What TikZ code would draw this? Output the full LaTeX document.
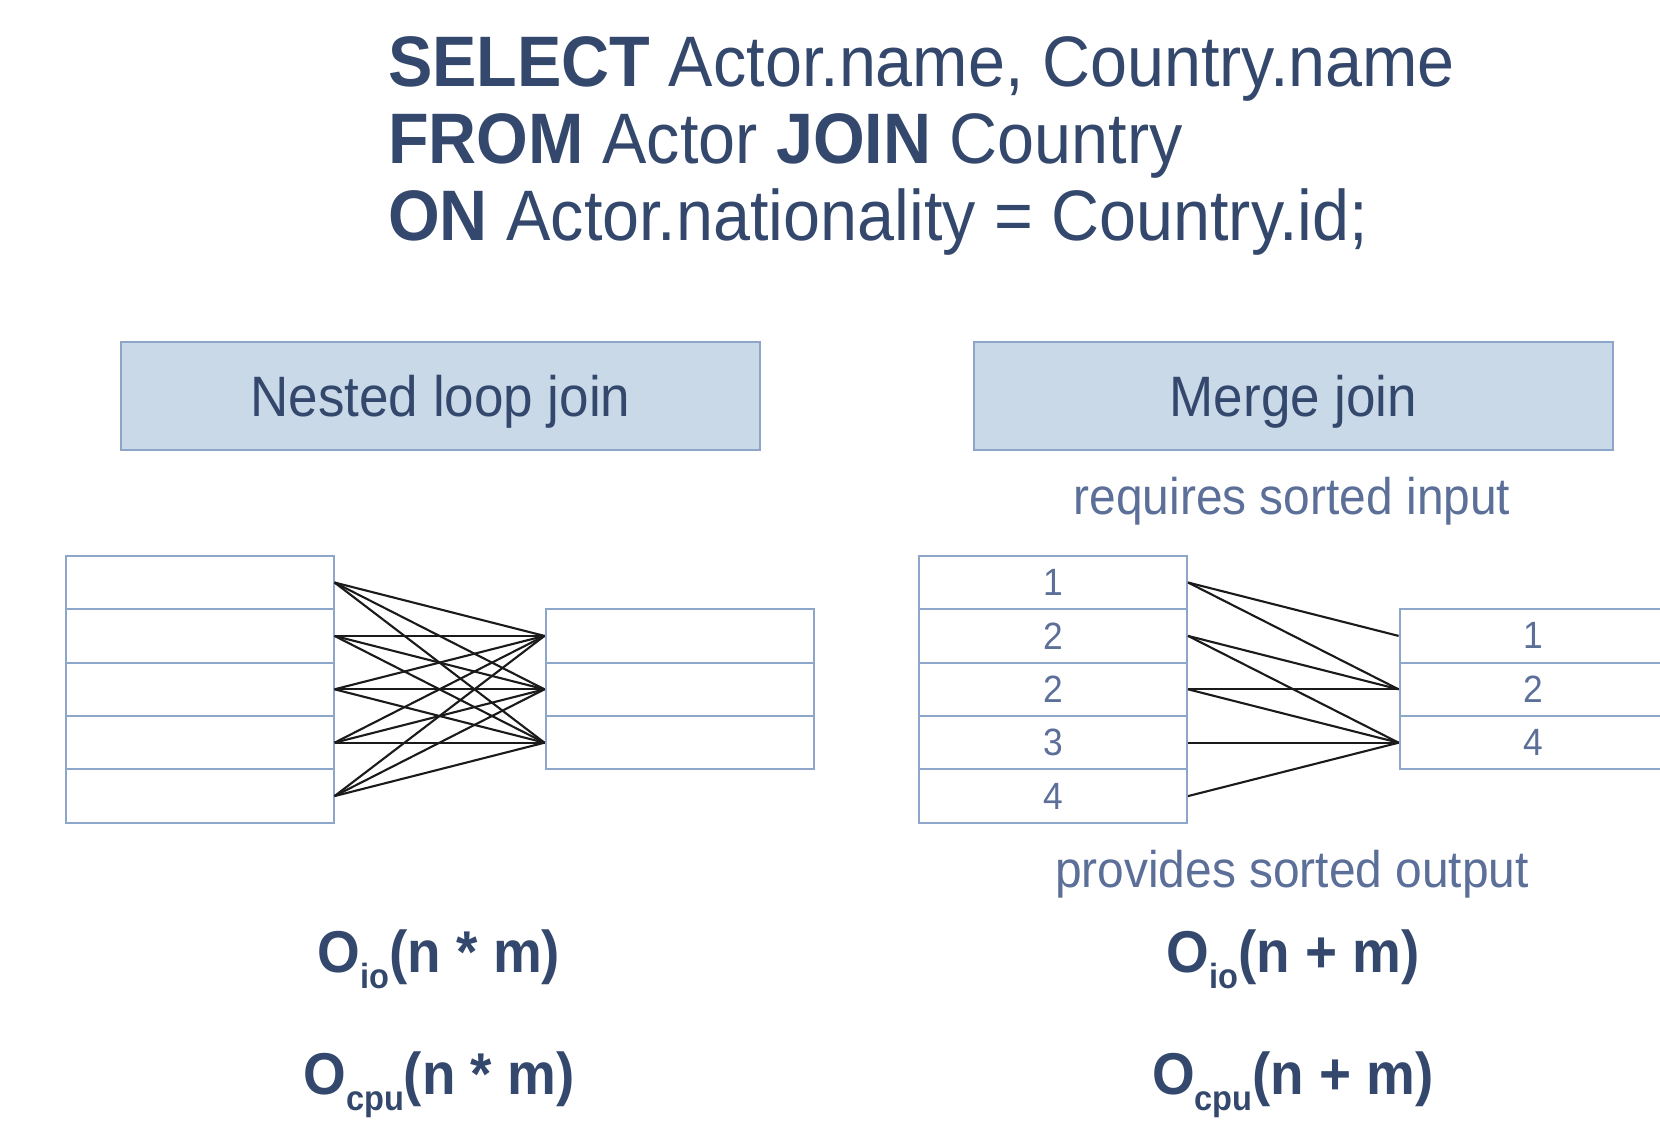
\documentclass[tikz,border=0pt]{standalone}
\usepackage{fontspec}
\setmainfont{Liberation Sans}[FakeStretch=0.93]
\definecolor{navy}{RGB}{51,72,108}
\definecolor{slate}{RGB}{91,111,153}
\definecolor{boxfill}{RGB}{201,217,232}
\definecolor{boxline}{RGB}{140,165,201}
\definecolor{cellline}{RGB}{142,166,202}
\definecolor{linkcol}{RGB}{26,26,26}
\newcommand\lowsub[1]{\raisebox{-16pt}{\fontsize{35}{35}\selectfont #1}}
\begin{document}
\begin{tikzpicture}[x=1pt,y=-1pt,
  cell/.style={draw=cellline, line width=2pt, minimum width=268pt, minimum height=53.4pt,
               inner sep=0pt, text=slate, font=\fontsize{38}{40}\selectfont},
  head/.style={draw=boxline, fill=boxfill, line width=2.5pt, minimum width=639pt,
               minimum height=108pt, inner sep=0pt, text=navy, font=\fontsize{57}{60}\selectfont,
               text height=41pt, text depth=0pt},
  note/.style={text=slate, font=\fontsize{51.5}{56}\selectfont, inner sep=0pt, anchor=base},
  cost/.style={text=navy, font=\bfseries\fontsize{59}{64}\selectfont, inner sep=0pt, anchor=base},
  sql/.style={text=navy, font=\fontsize{71.5}{80}\selectfont, inner sep=0pt, anchor=base west},
  link/.style={line width=2.1pt, draw=linkcol}
]
\clip (0,0) rectangle (1660,1124);
\fill[white] (0,0) rectangle (1660,1124);

% SQL query
\node[sql] (q1) at (388,86)  {\textbf{SELECT} Actor.name, Country.name};
\node[sql] (q2) at (388,163) {\textbf{FROM} Actor \textbf{JOIN} Country};
\node[sql] (q3) at (388,240) {\textbf{ON} Actor.nationality = Country.id;};

% algorithm headers
\node[head] (hnl) at (440.5,396) {Nested loop join};
\node[head] (hmj) at (1293.5,396) {Merge join};

% nested loop tables
\foreach \i in {1,...,5}
  \node[cell] (nl\i) at (199.5,{582.5+53.4*(\i-1)}) {};
\foreach \i in {1,2,3}
  \node[cell] (nr\i) at (679.5,{635.9+53.4*(\i-1)}) {};

% merge join tables
\foreach \i/\v in {1/1,2/2,3/2,4/3,5/4}
  \node[cell] (ml\i) at (1053,{582.5+53.4*(\i-1)}) {\v};
\foreach \i/\v in {1/1,2/2,3/4}
  \node[cell] (mr\i) at (1533.6,{635.9+53.4*(\i-1)}) {\v};

% nested loop: every outer row against every inner row
\foreach \i in {1,...,5}
  \foreach \j in {1,2,3}
    \draw[link] (nl\i.east) -- (nr\j.west);

% merge join: matching runs
\foreach \i/\j in {1/1,1/2,2/2,2/3,3/2,3/3,4/3,5/3}
  \draw[link] (ml\i.east) -- (mr\j.west);

% notes
\node[note] (req) at (1292,514) {requires sorted input};
\node[note] (prov) at (1292,887) {provides sorted output};

% costs
\node[cost] (cio1)  at (439,972)   {O\lowsub{io}(n * m)};
\node[cost] (ccpu1) at (439,1094)  {O\lowsub{cpu}(n * m)};
\node[cost] (cio2)  at (1293,972)  {O\lowsub{io}(n + m)};
\node[cost] (ccpu2) at (1293,1094) {O\lowsub{cpu}(n + m)};
\end{tikzpicture}
\end{document}
